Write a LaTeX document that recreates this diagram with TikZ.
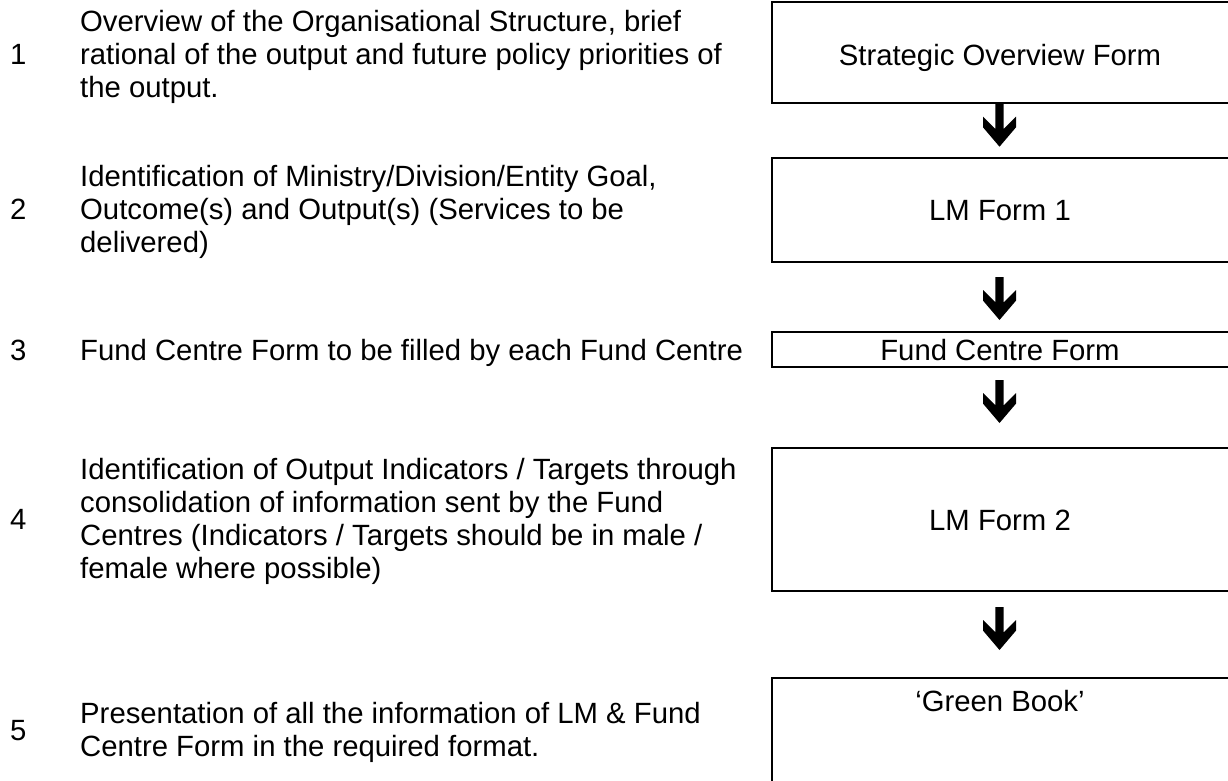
\documentclass[tikz,border=0pt]{standalone}
\usepackage{fontspec}
\setmainfont{Liberation Sans}
\tikzset{
  txt/.style={font=\fontsize{29.3pt}{33pt}\selectfont, inner sep=0pt, anchor=base west},
  lbl/.style={font=\fontsize{29.3pt}{33pt}\selectfont, inner sep=0pt, anchor=base},
  formbox/.style={draw, line width=2.3pt, inner sep=0pt, minimum width=459.3pt},
  blockarrow/.pic={\fill (0,0) -- (16.5,-19.4) -- (16.5,-30) -- (4.2,-17.7) -- (4.2,-43)
      -- (-4.2,-43) -- (-4.2,-17.7) -- (-16.5,-30) -- (-16.5,-19.4) -- cycle;}
}
\begin{document}
\begin{tikzpicture}[x=1pt,y=-1pt]
\useasboundingbox (0,0) rectangle (1228,780);
\clip (0,0) rectangle (1228,780);

% boxes
\node[formbox, minimum height=101.5pt] (b1) at (1001.35,52.55) {};
\node[formbox, minimum height=103.4pt] (b2) at (1001.35,210) {};
\node[formbox, minimum height=35pt]    (b3) at (1001.35,349.2) {};
\node[formbox, minimum height=143pt]   (b4) at (1001.35,519.5) {};
\node[formbox, minimum height=122pt]   (b5) at (1001.35,739) {};

% box labels
\node[lbl] (l1) at (1000,65) {Strategic Overview Form};
\node[lbl] (l2) at (1000,220.7) {LM Form 1};
\node[lbl] (l3) at (1000,360) {Fund Centre Form};
\node[lbl] (l4) at (1000,530) {LM Form 2};
\node[lbl] (l5) at (1000,711.7) {`Green Book'};

% block arrows (tips)
\coordinate (tip1) at (999.5,146.7);
\coordinate (tip2) at (999.5,320);
\coordinate (tip3) at (999.5,423);
\coordinate (tip4) at (999.5,650);
\foreach \t in {tip1,tip2,tip3,tip4} \pic at (\t) {blockarrow};

% numbers
\node[txt] (n1) at (10,64.5) {1};
\node[txt] (n2) at (10,219.5) {2};
\node[txt] (n3) at (10,360) {3};
\node[txt] (n4) at (10,529) {4};
\node[txt] (n5) at (10,740) {5};

% descriptions
\node[txt] (t1) at (80,31.5) {\vtop{\hbox{Overview of the Organisational Structure, brief}\hbox{rational of the output and future policy priorities of}\hbox{the output.}}};
\node[txt] (t2) at (80,186) {\vtop{\hbox{Identification of Ministry/Division/Entity Goal,}\hbox{Outcome(s) and Output(s) (Services to be}\hbox{delivered)}}};
\node[txt] (t3) at (80,360) {Fund Centre Form to be filled by each Fund Centre};
\node[txt] (t4) at (80,479.5) {\vtop{\hbox{Identification of Output Indicators / Targets through}\hbox{consolidation of information sent by the Fund}\hbox{Centres (Indicators / Targets should be in male /}\hbox{female where possible)}}};
\node[txt] (t5) at (80,723) {\vtop{\hbox{Presentation of all the information of LM \& Fund}\hbox{Centre Form in the required format.}}};
\end{tikzpicture}
\end{document}
